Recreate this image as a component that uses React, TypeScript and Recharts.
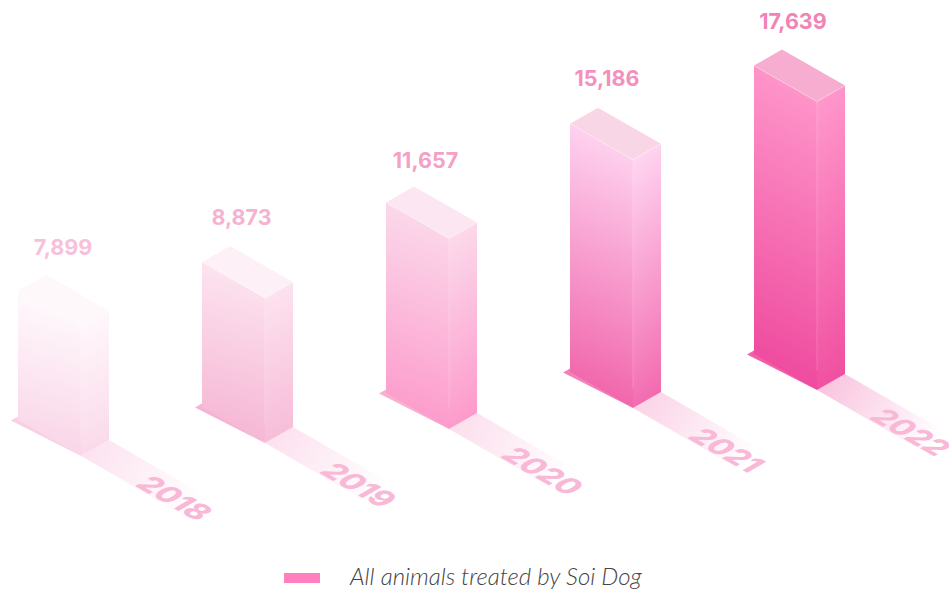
import { BarChart, Bar, XAxis, YAxis, Legend, LabelList } from "recharts";

const years = ["2018", "2019", "2020", "2021", "2022"];
const treated = [7899, 8873, 11657, 15186, 17639];
const seriesName = "All animals treated by Soi Dog";

const rows = years.map((year, i) => ({ year, treated: treated[i] }));

// isometric box
const FRONT_W = 63;
const SIDE_W = 28;
const FRONT_DROP = 36;
const SIDE_RISE = 16;
// each bar stands a little further up the page than the previous one
const LIFT = [0, 13, 27, 48, 66];
// value labels are not quite centred over their bars
const LABEL_DX = [45, 39.5, 39.5, 37, 39];
const LABEL_DY = [-36, -37, -34, -38, -37];

const looks = [
  { front: ["#fffcfe", "#f9d3e6"], side: ["#fff9fc", "#fad8e9"], top: "#fff8fb", plate: "#f9cfe3", shadow: 0.15, label: "#f9c0da" },
  { front: ["#fde6f1", "#f5b4d3"], side: ["#fde4f0", "#f7bbd8"], top: "#fdf0f6", plate: "#f5b4d3", shadow: 0.16, label: "#f7b2d1" },
  { front: ["#fbdcec", "#fd98ca"], side: ["#fbdcec", "#fd98ca"], top: "#fce6f1", plate: "#f7b0d0", shadow: 0.17, label: "#f5a0c7" },
  { front: ["#ffd8f3", "#f060a8"], side: ["#ffd8f3", "#f268ad"], top: "#f9d6e6", plate: "#f77fb9", shadow: 0.23, label: "#f490bd" },
  { front: ["#ff99cc", "#ee479c"], side: ["#ff99cc", "#f04e9f"], top: "#f6add0", plate: "#f25fa8", shadow: 0.31, label: "#f283b6" },
];

const pts = (list: number[][]) => list.map((p) => p.join(",")).join(" ");

function IsoBar({ x, y, height, index }: any) {
  const lift = LIFT[index];
  const look = looks[index];
  const top = y - lift;
  const base = y + height - lift;
  const midX = x + FRONT_W;
  const endX = midX + SIDE_W;
  const shadowLen = 104;
  const shadowDrop = 60;
  return (
    <g>
      <defs>
        <linearGradient
          id={`shadow${index}`}
          gradientUnits="userSpaceOnUse"
          x1={midX + 14}
          y1={base + 28}
          x2={midX + 14 + shadowLen}
          y2={base + 28 + shadowDrop}
        >
          <stop offset="0%" stopColor="#ee479c" stopOpacity={look.shadow} />
          <stop offset="100%" stopColor="#ee479c" stopOpacity={0} />
        </linearGradient>
      </defs>
      <polygon
        points={pts([
          [midX, base + FRONT_DROP],
          [endX, base + FRONT_DROP - SIDE_RISE],
          [endX + shadowLen, base + FRONT_DROP - SIDE_RISE + shadowDrop],
          [midX + shadowLen, base + FRONT_DROP + shadowDrop],
        ])}
        fill={`url(#shadow${index})`}
      />
      <polygon
        points={pts([
          [x - 7, base + 0.5],
          [x, base - 3.5],
          [midX, base + FRONT_DROP],
        ])}
        fill={look.plate}
      />
      <polygon
        points={pts([
          [x, top],
          [midX, top + FRONT_DROP],
          [midX, base + FRONT_DROP],
          [x, base],
        ])}
        fill={`url(#front${index})`}
      />
      <polygon
        points={pts([
          [midX, top + FRONT_DROP],
          [endX, top + FRONT_DROP - SIDE_RISE],
          [endX, base + FRONT_DROP - SIDE_RISE],
          [midX, base + FRONT_DROP],
        ])}
        fill={`url(#side${index})`}
      />
      <polygon
        points={pts([
          [x, top],
          [x + SIDE_W, top - SIDE_RISE],
          [endX, top + FRONT_DROP - SIDE_RISE],
          [midX, top + FRONT_DROP],
        ])}
        fill={look.top}
      />
      <polyline
        points={pts([
          [x, top],
          [midX, top + FRONT_DROP],
          [endX, top + FRONT_DROP - SIDE_RISE],
        ])}
        fill="none"
        stroke="#fff"
        strokeOpacity={0.25}
      />
      <line
        x1={midX}
        y1={top + FRONT_DROP}
        x2={midX}
        y2={base + FRONT_DROP - 20}
        stroke="#fff"
        strokeOpacity={0.18}
      />
    </g>
  );
}

function ValueLabel({ x, y, value, index }: any) {
  return (
    <text
      x={x + LABEL_DX[index]}
      y={y - LIFT[index] + LABEL_DY[index]}
      textAnchor="middle"
      fontFamily="Inter"
      fontWeight={700}
      fontSize={21.5}
      fill={looks[index].label}
    >
      {Number(value).toLocaleString("en-US")}
    </text>
  );
}

// year lies flat on the floor, past the end of the shadow
function YearTick({ x, index, payload }: any) {
  const frontX = x - 92 + FRONT_W;
  const frontY = 456 - LIFT[index];
  return (
    <text
      transform={`matrix(0.866 0.5 -0.866 0.5 ${frontX + 94} ${frontY + 42})`}
      textAnchor="middle"
      dominantBaseline="central"
      fontFamily="Inter"
      fontWeight={800}
      fontSize={30}
      fill="#f8b8d6"
    >
      {payload.value}
    </text>
  );
}

function LegendRow() {
  return (
    <div
      style={{
        display: "flex",
        alignItems: "center",
        height: 36,
        paddingLeft: 284,
        fontFamily: "Lato",
        fontStyle: "italic",
        fontWeight: 300,
        fontSize: 24,
        color: "#444",
      }}
    >
      <span style={{ width: 36, height: 10, background: "#ff7fbf", marginRight: 30 }} />
      <span style={{ position: "relative", top: -3 }}>{seriesName}</span>
    </div>
  );
}

export default function App() {
  return (
    <div style={{ position: "absolute", left: 0, top: 0 }}>
      <BarChart
        width={949}
        height={591}
        data={rows}
        barCategoryGap={0}
        margin={{ top: 93, right: 11, bottom: 134, left: 18 }}
      >
        <defs>
          {looks.map((look, i) => (
            <g key={i}>
              <linearGradient id={`front${i}`} x1="0.55" y1="0" x2="0.45" y2="1">
                <stop offset="0%" stopColor={look.front[0]} />
                <stop offset="100%" stopColor={look.front[1]} />
              </linearGradient>
              <linearGradient id={`side${i}`} x1="0.45" y1="0" x2="0.55" y2="1">
                <stop offset="0%" stopColor={look.side[0]} />
                <stop offset="100%" stopColor={look.side[1]} />
              </linearGradient>
            </g>
          ))}
        </defs>
        <XAxis
          dataKey="year"
          axisLine={false}
          tickLine={false}
          height={1}
          interval={0}
          tick={<YearTick />}
        />
        <YAxis hide width={0} domain={[0, 20000]} />
        <Legend
          verticalAlign="bottom"
          height={36}
          wrapperStyle={{ left: 0, bottom: -5, width: 949, height: 36 }}
          content={<LegendRow />}
        />
        <Bar dataKey="treated" name={seriesName} isAnimationActive={false} shape={<IsoBar />}>
          <LabelList dataKey="treated" content={<ValueLabel />} />
        </Bar>
      </BarChart>
    </div>
  );
}
